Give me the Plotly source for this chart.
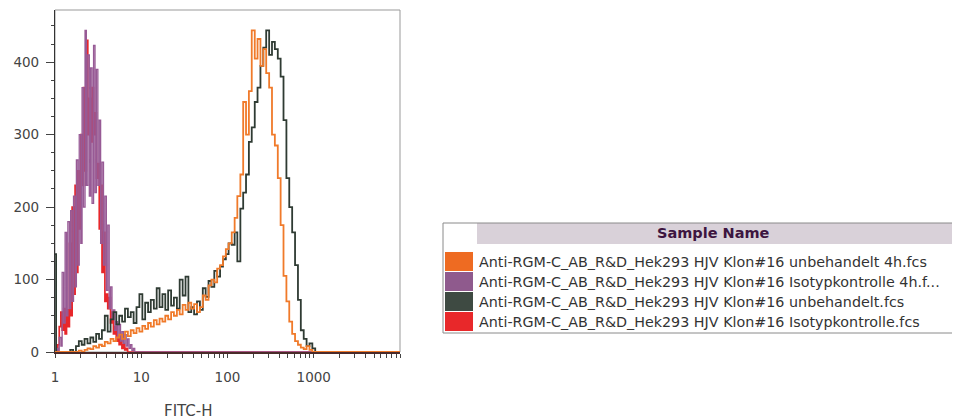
import plotly.graph_objects as go

# ---------------- data ----------------
# isotype control histograms (channel positions on FITC-H, counts)
iso_x = [1.00, 1.04, 1.08, 1.12, 1.17, 1.21, 1.26, 1.31, 1.36, 1.41, 1.47, 1.52, 1.58, 1.64,
         1.71, 1.77, 1.84, 1.91, 1.99, 2.06, 2.14, 2.23, 2.31, 2.40, 2.50, 2.59, 2.69, 2.80,
         2.91, 3.02, 3.14, 3.26, 3.38, 3.51, 3.65, 3.79, 3.94, 4.09, 4.25, 4.41, 4.58, 4.76,
         4.94, 5.13, 5.33, 5.54, 5.75, 5.97, 6.20, 6.44, 6.69, 6.95, 7.22, 7.50, 7.79, 8.09,
         8.40, 8.73, 10000]
iso_4h = [0, 5, 0, 20, 8, 110, 40, 165, 50, 180, 60, 195, 70, 215,
          90, 265, 120, 300, 150, 365, 200, 444, 230, 410, 215, 392, 205, 423,
          220, 390, 230, 320, 150, 262, 120, 215, 85, 175, 60, 90, 45, 58,
          30, 42, 20, 38, 15, 28, 12, 24, 8, 18, 5, 10, 2, 5,
          0, 0, 0]
iso_0h = [0, 0, 10, 35, 55, 30, 60, 25, 58, 35, 150, 50, 200, 80,
          230, 110, 250, 170, 300, 230, 365, 250, 430, 300, 350, 290, 365, 300,
          330, 240, 260, 170, 230, 110, 165, 70, 80, 60, 75, 40, 55, 25,
          35, 15, 22, 10, 15, 5, 10, 3, 5, 0, 0, 0, 0, 0,
          0, 0, 0]

# stained (unbehandelt) histograms
pos_x = [1.00, 1.03, 1.50, 1.62, 1.75, 1.89, 2.04, 2.20, 2.38, 2.57, 2.78, 3.00, 3.24, 3.50,
         3.78, 4.08, 4.41, 4.76, 5.14, 5.55, 6.00, 6.48, 7.00, 7.56, 8.16, 8.81, 9.52,
         10.3, 11.1, 12.0, 12.9, 14.0, 15.1, 16.3, 17.6, 19.0, 20.5, 22.2, 23.9, 25.9,
         27.9, 30.2, 32.6, 35.2, 38.0, 41.0, 44.3, 47.9, 51.7, 55.8, 60.3, 65.1, 70.3,
         75.9, 82.0, 88.6, 95.7, 103, 112, 121, 130, 141, 152, 164, 177, 191, 207, 223,
         241, 260, 281, 304, 328, 354, 383, 413, 446, 482, 520, 562, 607, 656, 708, 765,
         826, 892, 963, 1040, 1120, 10000]
unb_0h = [135, 0, 3, 0, 8, 15, 10, 18, 12, 20, 14, 25, 18, 30,
          50, 28, 45, 55, 38, 50, 42, 60, 48, 55, 40, 62, 80,
          45, 68, 55, 72, 60, 88, 62, 80, 58, 85, 64, 75, 60,
          100, 78, 104, 55, 62, 52, 70, 58, 88, 76, 98, 90, 112,
          104, 118, 128, 135, 150, 148, 165, 125, 198, 220, 245, 290, 310, 345, 365,
          395, 420, 444, 410, 428, 418, 405, 380, 320, 240, 200, 165, 120, 72, 30, 18,
          8, 12, 5, 0, 0, 0]
unb_4h = [0, 0, 0, 0, 0, 2, 0, 3, 5, 4, 8, 6, 10, 8,
          14, 12, 18, 15, 20, 24, 18, 28, 22, 30, 26, 33, 28,
          36, 32, 40, 35, 44, 38, 46, 42, 50, 45, 55, 50, 58,
          52, 65, 58, 68, 60, 66, 55, 62, 78, 72, 92, 100, 96,
          115, 120, 132, 142, 150, 165, 185, 215, 245, 345, 300, 360, 444, 405, 432,
          395, 418, 385, 365, 300, 285, 240, 175, 105, 70, 42, 25, 15, 10, 6, 4,
          8, 3, 0, 0, 0, 0]

sample_names = [
    "Anti-RGM-C_AB_R&D_Hek293 HJV Klon#16 unbehandelt 4h.fcs",
    "Anti-RGM-C_AB_R&D_Hek293 HJV Klon#16 Isotypkontrolle 4h.f...",
    "Anti-RGM-C_AB_R&D_Hek293 HJV Klon#16 unbehandelt.fcs",
    "Anti-RGM-C_AB_R&D_Hek293 HJV Klon#16 Isotypkontrolle.fcs",
]
swatch_colors = ["#EE6B22", "#8F5A8D", "#3E4A42", "#E8282A"]

y_ticks = [0, 100, 200, 300, 400]
x_major = [1, 10, 100, 1000]

# ---------------- figure ----------------
OFF = 8  # page body margin
W, H = 960 - OFF, 420 - OFF
L, T = 55 - OFF, 10 - OFF
R = W - (400 - OFF)
B = H - (352 - OFF)
pw, ph = W - L - R, H - T - B


def px(xp):
    return (xp - OFF - L) / pw


def py(yp):
    return (H - B - (yp - OFF)) / ph


fig = go.Figure()
fig.add_trace(go.Scatter(x=iso_x, y=iso_0h, mode="lines", line=dict(color="#E8262A", width=1.7, shape="hv"),
                         name=sample_names[3], showlegend=False))
fig.add_trace(go.Scatter(x=iso_x, y=iso_4h, mode="lines", line=dict(color="#975A95", width=1.3, shape="hv"),
                         name=sample_names[1], showlegend=False))
fig.add_trace(go.Scatter(x=pos_x, y=unb_0h, mode="lines", line=dict(color="#2F3B33", width=1.8, shape="hv"),
                         name=sample_names[2], showlegend=False))
fig.add_trace(go.Scatter(x=pos_x, y=unb_4h, mode="lines", line=dict(color="#F07A2A", width=1.8, shape="hv"),
                         name=sample_names[0], showlegend=False))

# x tick positions: decades labelled, intermediate minor marks unlabelled
xt_vals, xt_text = [], []
for d in x_major + [10000]:
    for m in range(1, 10):
        v = d * m
        if v > 10000:
            break
        xt_vals.append(v)
        xt_text.append(str(v) if (m == 1 and d in x_major) else "")

fig.update_layout(
    width=W, height=H,
    margin=dict(l=L, r=R, t=T, b=B),
    paper_bgcolor="white", plot_bgcolor="white",
    font=dict(family="DejaVu Sans", size=12, color="#444"),
    xaxis=dict(type="log", range=[0, 4.0], tickvals=xt_vals, ticktext=xt_text,
               ticks="outside", ticklen=4, tickcolor="#444", showgrid=False, zeroline=False,
               showline=True, linecolor="#4a2a2a", linewidth=1.5, ticklabelstandoff=8,
               tickfont=dict(size=13.5, color="#444")),
    yaxis=dict(range=[0, 472], tickvals=y_ticks, ticks="outside", ticklen=8, tickcolor="#444",
               showgrid=False, zeroline=False, showline=True, linecolor="#333", linewidth=1.2,
               ticklabelstandoff=4,
               tickfont=dict(size=13.5, color="#444"),
               minor=dict(dtick=25, ticks="outside", ticklen=3, tickcolor="#444")),
)

shapes = []
# plot frame (top/right)
shapes.append(dict(type="rect", xref="paper", yref="paper", x0=0, y0=0, x1=1, y1=1,
                   line=dict(color="#999", width=1), layer="below"))

# legend table
tx0, tx1 = 443, 962
top, hdr_b, bot = 223, 244, 333
shapes.append(dict(type="rect", xref="paper", yref="paper", x0=px(477), x1=px(tx1), y0=py(hdr_b), y1=py(top),
                   fillcolor="#D9D1D9", line=dict(width=0)))
shapes.append(dict(type="rect", xref="paper", yref="paper", x0=px(tx0), x1=px(tx1), y0=py(bot), y1=py(top),
                   fillcolor="rgba(0,0,0,0)", line=dict(color="#8a8a8a", width=1)))
row_h = 20
annotations = []
for i, (name, c) in enumerate(zip(sample_names, swatch_colors)):
    y0 = 252 + i * row_h
    shapes.append(dict(type="rect", xref="paper", yref="paper", x0=px(445), x1=px(473),
                       y0=py(y0 + 19), y1=py(y0), fillcolor=c, line=dict(width=0)))
    annotations.append(dict(x=px(477), y=py(y0 + 10), xref="paper", yref="paper", text=name,
                            showarrow=False, xanchor="left", yanchor="middle",
                            font=dict(family="DejaVu Sans", size=14.3, color="#333")))
annotations.append(dict(x=px(713), y=py(233), xref="paper", yref="paper", text="<b>Sample Name</b>",
                        showarrow=False, xanchor="center", yanchor="middle",
                        font=dict(family="DejaVu Sans", size=14.5, color="#3d1540")))
annotations.append(dict(x=px(188), y=py(411), xref="paper", yref="paper", text="FITC-H",
                        showarrow=False, xanchor="center", yanchor="middle",
                        font=dict(family="DejaVu Sans", size=15, color="#444")))
fig.update_layout(shapes=shapes, annotations=annotations)

fig.write_html("out.html")
